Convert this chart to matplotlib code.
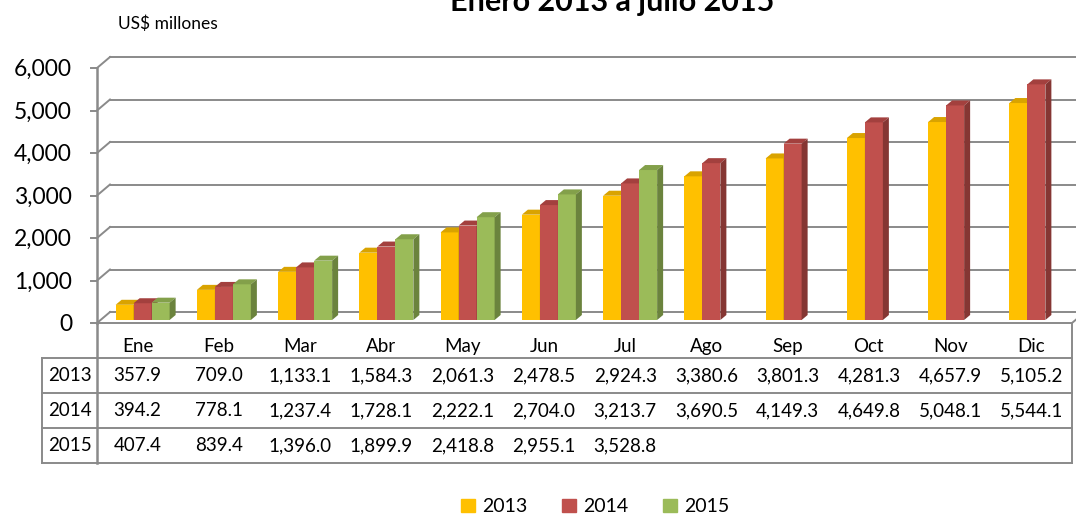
import matplotlib
matplotlib.use("Agg")
import matplotlib.pyplot as plt
from matplotlib.patches import Polygon, Patch

plt.rcParams['font.family'] = ['Lato', 'DejaVu Sans']

# data (US$ millones, acumulado)
months = ['Ene', 'Feb', 'Mar', 'Abr', 'May', 'Jun', 'Jul', 'Ago', 'Sep', 'Oct', 'Nov', 'Dic']
years = ['2013', '2014', '2015']
v2013 = [357.9, 709.0, 1133.1, 1584.3, 2061.3, 2478.5, 2924.3, 3380.6, 3801.3, 4281.3, 4657.9, 5105.2]
v2014 = [394.2, 778.1, 1237.4, 1728.1, 2222.1, 2704.0, 3213.7, 3690.5, 4149.3, 4649.8, 5048.1, 5544.1]
v2015 = [407.4, 839.4, 1396.0, 1899.9, 2418.8, 2955.1, 3528.8]
yticks = [0, 1000, 2000, 3000, 4000, 5000, 6000]

series = [v2013, v2014, v2015]
front = ['#FFC000', '#C0504D', '#9BBB59']
top = ['#D9A300', '#A3403E', '#83A04A']
side = ['#B38600', '#853633', '#6B833D']
grid_c = '#8A8A8A'

W, H = 1076, 514
fig = plt.figure(figsize=(W / 100, H / 100), dpi=100)

# main plot area: front plane from x=97..1072 px, y=323..68 px
ax = fig.add_axes([97 / W, 1 - 323 / H, (1072 - 97) / W, (323 - 68) / H])
ax.set_xlim(-0.5, 11.5)
ax.set_ylim(0, 6000)
ax.axis('off')

px_cat = (1072 - 97) / 12
px_val = (323 - 68) / 6000
bw = 18 / px_cat
grp_off = -22 / px_cat
base = 3 / px_val
ddx, ddy = 6 / px_cat, 5 / px_val
bdx, bdy = 13 / px_cat, 11 / px_val

# walls and gridlines
for v in yticks:
    ax.plot([-0.5, -0.5 + bdx], [v, v + bdy], color=grid_c, lw=1.4, clip_on=False, zorder=1)
    ax.plot([-0.5 + bdx, 12.5], [v + bdy, v + bdy], color=grid_c, lw=1.4, clip_on=False, zorder=1)
    ax.plot([-0.5 - 6 / px_cat, -0.5], [v, v], color=grid_c, lw=1.4, clip_on=False, zorder=1)
    ax.text(-0.5 - 25 / px_cat, v - 40, f"{v:,}", ha='right', va='center', fontsize=16.5)
ax.plot([-0.5, 11.5], [0, 0], color=grid_c, lw=1.4, clip_on=False, zorder=2)
ax.plot([11.5, 11.5 + bdx], [0, bdy], color=grid_c, lw=1.4, clip_on=False, zorder=2)
ax.plot([-0.5, -0.5], [0, 6000], color=grid_c, lw=1.8, clip_on=False, zorder=2)

# 3d-ish bars
z = 3
for i in range(len(months)):
    for j, vals in enumerate(series):
        if i >= len(vals):
            continue
        v = vals[i]
        xl = i + grp_off + j * bw
        ax.bar(xl, v, width=bw, bottom=base, align='edge', color=front[j], lw=0, zorder=z)
        ax.add_patch(Polygon([(xl, base + v), (xl + ddx, base + v + ddy),
                              (xl + bw + ddx, base + v + ddy), (xl + bw, base + v)],
                             closed=True, fc=top[j], ec='none', zorder=z))
        ax.add_patch(Polygon([(xl + bw, base), (xl + bw + ddx, base + ddy),
                              (xl + bw + ddx, base + v + ddy), (xl + bw, base + v)],
                             closed=True, fc=side[j], ec='none', zorder=z))
        z += 1

# data table under the chart
tab = fig.add_axes([42 / W, 1 - 463 / H, (1072 - 42) / W, (463 - 323) / H])
left = -0.5 - 55 / px_cat
tab.set_xlim(left, 11.5)
tab.set_ylim(4, 0)
tab.axis('off')
for r in [1, 2, 3, 4]:
    tab.plot([left, 11.5], [r, r], color=grid_c, lw=1.4, clip_on=False)
tab.plot([left, left], [1, 4], color=grid_c, lw=1.4, clip_on=False)
tab.plot([-0.5, -0.5], [0, 4], color=grid_c, lw=1.8, clip_on=False)
tab.plot([11.5, 11.5], [0, 4], color=grid_c, lw=1.4, clip_on=False)

for i, m in enumerate(months):
    tab.text(i, 0.66, m, ha='center', va='center', fontsize=13.5)
for r, (yr, vals) in enumerate(zip(years, series)):
    tab.text((left - 0.5) / 2, r + 1.5, yr, ha='center', va='center', fontsize=13.5)
    for i, v in enumerate(vals):
        tab.text(i, r + 1.5, f"{v:,.1f}", ha='center', va='center', fontsize=13.5)

# titles (the title is cut by the top edge, as in the source image)
fig.text(612 / W, 1 - 11 / H, 'Enero 2013 a julio 2015', ha='center', va='baseline',
         fontsize=22, fontweight='bold')
fig.text(118 / W, 1 - 29 / H, 'US$ millones', ha='left', va='baseline', fontsize=12.5)

# legend
handles = [Patch(color=c, label=y) for c, y in zip(front, years)]
fig.legend(handles=handles, loc='center', bbox_to_anchor=(595 / W, 1 - 507 / H), ncol=3,
           frameon=False, fontsize=14, handlelength=0.72, handleheight=0.62,
           handletextpad=0.35, columnspacing=1.8, borderpad=0)

fig.savefig('out.png', dpi=100)
